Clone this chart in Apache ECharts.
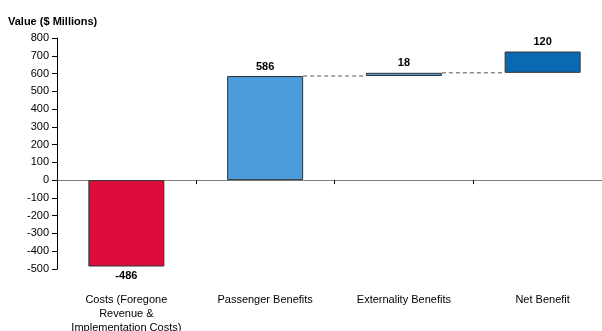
<!DOCTYPE html>
<html>
<head>
<meta charset="utf-8">
<script src="https://cdn.jsdelivr.net/npm/echarts@6/dist/echarts.min.js"></script>
<style>
  html, body { margin: 0; padding: 0; background: #fff; }
  #chart { width: 602px; height: 331px; }
</style>
</head>
<body>
<div id="chart"></div>
<script>
  // waterfall data
  var categories = ["Costs (Foregone\nRevenue &\nImplementation Costs)", "Passenger Benefits", "Externality Benefits", "Net Benefit"];
  var values = [-486, 586, 18, 120];
  var bases = [0, 0, 586, 604];
  var colors = ["#DC0D3A", "#4C9BDD", "#4C9BDD", "#0A69B0"];
  // dashed connectors: [from category index, level]
  var connectors = [[1, 586], [2, 604]];

  var BAR_W = 76;
  var chart = echarts.init(document.getElementById("chart"));

  chart.setOption({
    animation: false,
    textStyle: { fontFamily: "Liberation Sans, Arial, sans-serif" },
    title: {
      text: "Value ($ Millions)",
      left: 3,
      top: 11,
      textStyle: { fontSize: 11, fontWeight: "bold", color: "#000" },
    },
    grid: { left: 57, top: 38, width: 555, bottom: 62, outerBoundsMode: "none" },
    xAxis: [
      {
        type: "category",
        data: categories,
        position: "bottom",
        axisLine: { show: false, onZero: false },
        axisTick: { show: false },
        axisLabel: { color: "#000", fontSize: 11, lineHeight: 14, margin: 24, interval: 0 },
      },
      {
        type: "category",
        data: categories,
        position: "bottom",
        axisLine: { show: true, onZero: true, lineStyle: { color: "#808080", width: 1 } },
        axisTick: { show: true, interval: 0, length: 4, lineStyle: { color: "#000" } },
        axisLabel: { show: false, interval: 0 },
      },
    ],
    yAxis: {
      type: "value",
      min: -500,
      max: 800,
      interval: 100,
      splitLine: { show: false },
      axisLine: { show: true, lineStyle: { color: "#000" } },
      axisTick: { show: true, length: 5, lineStyle: { color: "#000" } },
      axisLabel: { color: "#000", fontSize: 11, margin: 8 },
    },
    series: [
      {
        type: "custom",
        z: 1,
        data: connectors,
        renderItem: function (params, api) {
          var a = api.coord([api.value(0), api.value(1)]);
          var b = api.coord([api.value(0) + 1, api.value(1)]);
          return {
            type: "line",
            shape: { x1: a[0] + BAR_W / 2, y1: a[1], x2: b[0] - BAR_W / 2, y2: b[1] },
            style: { stroke: "#555", lineWidth: 1, lineDash: [4, 3] },
          };
        },
      },
      {
        type: "bar",
        stack: "wf",
        z: 2,
        barWidth: BAR_W,
        itemStyle: { color: "transparent" },
        emphasis: { disabled: true },
        data: bases,
      },
      {
        type: "bar",
        stack: "wf",
        z: 2,
        barWidth: BAR_W,
        data: values.map(function (v, i) {
          return {
            value: v,
            itemStyle: { color: colors[i], borderColor: "#333", borderWidth: 1 },
            label: {
              show: true,
              position: v < 0 ? "bottom" : "top",
              formatter: String(v),
              fontSize: 11,
              fontWeight: "bold",
              color: "#000",
              distance: 4,
            },
          };
        }),
      },
    ],
  });
</script>
</body>
</html>
